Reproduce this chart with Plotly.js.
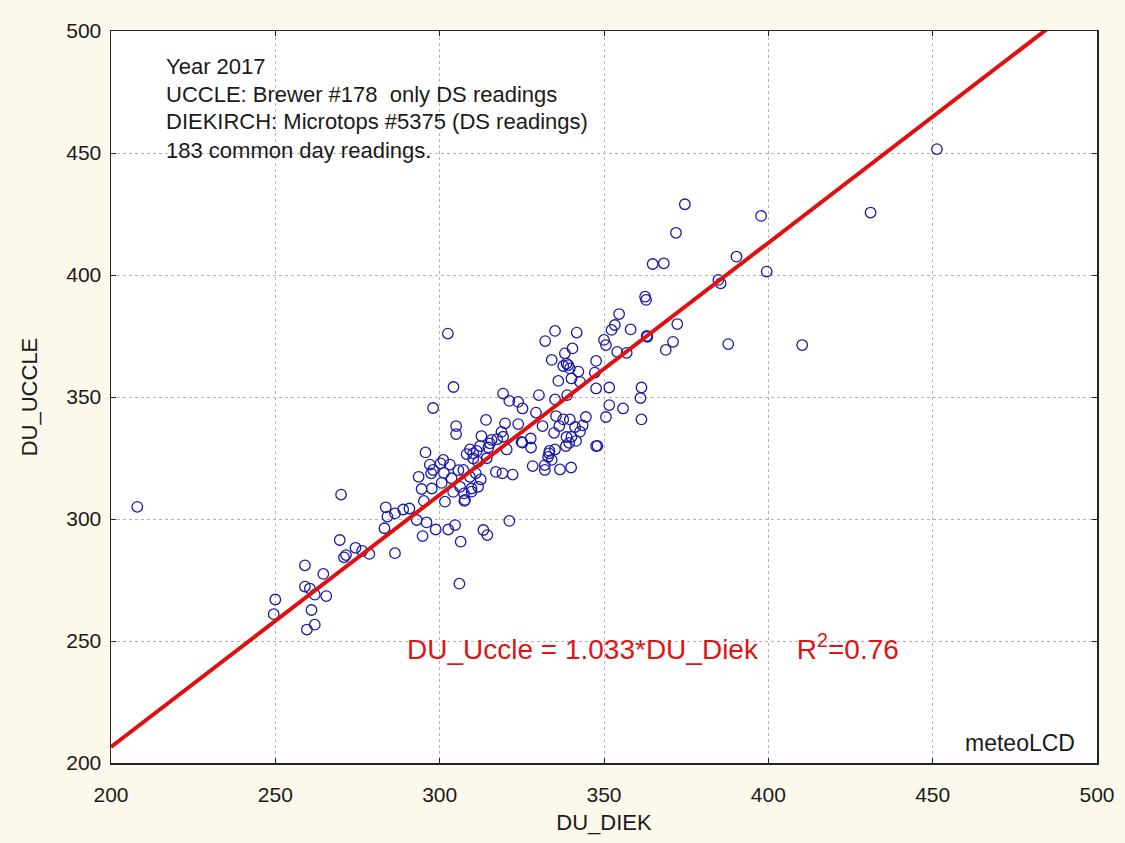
<!DOCTYPE html>
<html>
<head>
<meta charset="utf-8">
<script src="https://cdn.plot.ly/plotly-3.0.1.min.js"></script>
<style>html,body{margin:0;padding:0;background:#fcf8ec;}</style>
</head>
<body>
<div id="chart" style="width:1125px;height:843px;"></div>
<script>
// Values (DU_DIEK vs DU_UCCLE, 2017)
const duDiek = [
 208,250,249.5,259,259,260.5,262,265.5,264.6,261,262,259.6,270,269.6,274.4,276.4,278.6,270.9,271.5,
 283.6,284.1,283.2,286.4,288.9,290.8,286.4,293,296,298.8,294.8,302.6,304.7,313.3,314.5,306.4,306,
 298,302.5,304.2,305,305,295.7,297,300.3,303.1,293.6,297.4,301.3,305.7,294.5,297.6,300.6,303.6,
 295.2,301.6,304.1,307.5,321.2,
 334.1,337.6,339.1,342.2,336.1,340.1,342.7,347.6,319.3,321.2,323.9,325.2,330.2,335.1,338.8,329.3,
 314.1,319.9,323.9,331.3,335.4,336.4,339.6,341.2,344.5,343.5,334.8,338.6,339.4,341.5,312.7,315.8,
 317.5,318.8,324.9,327.7,320.4,327.8,333.4,335.1,338.4,347.6,309.2,311.3,308.2,312.3,314.8,310.2,
 311.7,333,332,334.1,328.3,332,336.6,340,317.1,319.1,322.2,307.2,309.2,312.5,306.2,307.4,307.7,
 309.7,311.7,
 362.8,354.6,353.3,352.3,358.1,341.7,350,350.6,363.2,372.3,371,368.8,340.4,338.1,338.6,354,356.9,
 347.6,347.2,351.6,361.4,361.1,351.6,355.8,350.6,361.4,348,
 364.8,368.2,390.3,399.5,384.8,385.5,362.5,363,387.8,374.6,397.8,431.1,371.9,410.3,451.3,332.1,
 335.1,339.6,
 337.6,340.1,342.7,333.3,325.2,319.3,315.3,310.2,314.3,311,309.7,301.1,298
];
const duUccle = [
 305,267,261,281,272.3,271.5,269,268.4,277.5,262.7,256.7,254.7,310,291.4,288.2,286.9,285.7,284.3,285.2,
 304.8,301,296.2,302.3,303.9,304.3,286,299.6,298.6,295.7,293,295.7,297.5,295.5,293.4,290.7,273.5,
 345.5,376,354.1,338.1,334.8,327.3,322.3,322.8,322.3,317.3,318.7,318.9,320,312.3,312.5,314.8,316.7,
 307.4,307.1,311.1,307.4,299.2,
 365.2,362.7,363.1,360.4,356.6,357.6,356.2,353.5,351.4,348.4,348,345.3,350.8,349,350.8,343.6,
 340.6,339.2,338.9,338.1,342.2,338.1,340.8,337.7,341.8,338.4,335.3,333.6,331.2,332,334,332.4,
 332.7,335.7,331.6,333,328.5,329.3,327.9,328.5,329.9,329.9,328.5,327.9,326.6,329.9,329.3,324.8,
 323.4,325.5,322.1,324.2,321.7,320.1,320.3,321.1,319.3,318.7,318.2,320.1,317.3,316.2,313.2,310.5,307.8,
 312.5,313.2,
 389.8,384,379.5,377.5,377.7,376.4,373.4,371.3,374.7,379.9,372.6,369.3,369.9,367.9,363.7,368.5,368.1,
 364.8,360,353.9,353.9,349.6,346.7,345.3,341.8,340.8,330,
 404.5,404.8,407.5,401.4,398,396.6,391.1,375,371.7,429,424.2,425.6,417.3,371.3,451.6,372.9,
 377.1,361.7,
 340.8,333.7,335.8,326.9,331.3,333.7,331,326.9,324.9,318.7,311.2,324.2,320.1
];
const slope = 1.033;
const r2 = 0.76;
const axisRange = [200, 500];
const tickVals = [200, 250, 300, 350, 400, 450, 500];
const xTitle = "DU_DIEK";
const yTitle = "DU_UCCLE";
const infoLines = [
 "Year 2017",
 "UCCLE: Brewer #178&nbsp;&nbsp;only DS readings",
 "DIEKIRCH: Microtops #5375 (DS readings)",
 "183 common day readings."
];
const eqText = "DU_Uccle = 1.033*DU_Diek&nbsp;&nbsp;&nbsp;&nbsp;&nbsp;R<sup>2</sup>=0.76";
const creditText = "meteoLCD";

const font = "Liberation Sans, Arial, sans-serif";

const fitX = axisRange.slice();
const fitY = fitX.map(v => slope * v);

const traces = [
 {
  x: duDiek, y: duUccle, type: "scatter", mode: "markers",
  marker: {symbol: "circle-open", size: 10.5, color: "#1a1aa8", line: {width: 1.3, color: "#1a1aa8"}},
  hoverinfo: "x+y", showlegend: false
 },
 {
  x: fitX, y: fitY, type: "scatter", mode: "lines",
  line: {color: "#e01010", width: 4},
  hoverinfo: "skip", showlegend: false
 }
];

const infoY = [0.951, 0.913, 0.876, 0.837];
const annotations = infoLines.map((t, i) => ({
 text: t, xref: "paper", yref: "paper", x: 0.054, y: infoY[i],
 xanchor: "left", yanchor: "middle", showarrow: false,
 font: {family: font, size: 22, color: "#1a1a1a"}
}));
annotations.push({
 text: eqText, xref: "paper", yref: "paper", x: 0.298, y: 0.158,
 xanchor: "left", yanchor: "middle", showarrow: false,
 font: {family: font, size: 28, color: "#e01414"}
});
annotations.push({
 text: creditText, xref: "paper", yref: "paper", x: 0.98, y: 0.028,
 xanchor: "right", yanchor: "middle", showarrow: false,
 font: {family: font, size: 23, color: "#1a1a1a"}
});

const axisCommon = {
 range: axisRange, tickvals: tickVals, ticks: "inside", ticklen: 5, tickwidth: 1,
 tickcolor: "#222", showline: true, linecolor: "#222", linewidth: 1.5, mirror: "ticks",
 showgrid: true, gridcolor: "#b4b4b4", griddash: "dot", gridwidth: 1,
 zeroline: false, tickfont: {family: font, size: 21, color: "#1a1a1a"}
};

const layout = {
 width: 1125, height: 843,
 margin: {l: 111, r: 28, t: 31, b: 80},
 paper_bgcolor: "#fcf8ec", plot_bgcolor: "#ffffff",
 xaxis: Object.assign({}, axisCommon, {
  title: {text: xTitle, font: {family: font, size: 22, color: "#1a1a1a"}, standoff: 10},
  ticklabelstandoff: 12
 }),
 yaxis: Object.assign({}, axisCommon, {
  title: {text: yTitle, font: {family: font, size: 22, color: "#1a1a1a"}, standoff: 22},
  ticklabelstandoff: 4
 }),
 annotations: annotations,
 showlegend: false
};

Plotly.newPlot("chart", traces, layout, {displayModeBar: false, staticPlot: true});
</script>
</body>
</html>
